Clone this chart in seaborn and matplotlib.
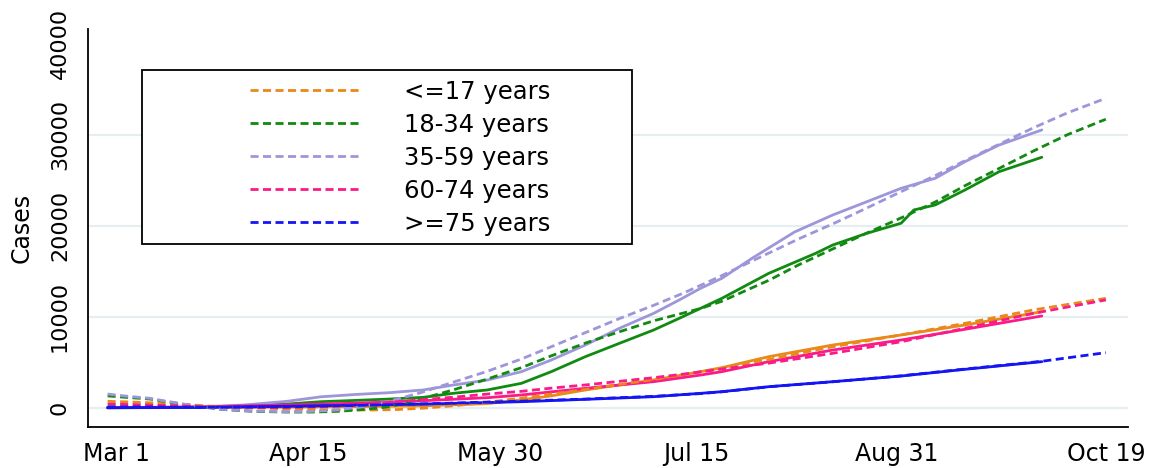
import matplotlib
matplotlib.use("Agg")
import matplotlib.pyplot as plt
from matplotlib.lines import Line2D
from matplotlib.patches import Rectangle
import numpy as np
import pandas as pd
import seaborn as sns

START = pd.Timestamp("2020-03-01")

groups = ["<=17 years", "18-34 years", "35-59 years", "60-74 years", ">=75 years"]
colors = ["#E8891A", "#118A11", "#9D96DA", "#FA1A88", "#1414F5"]

# Observed cumulative cases (days counted from Mar 1)
obs_u17_days = [-2, 20, 40, 56, 72, 87, 95, 102, 110, 118, 126, 137, 142, 153, 168, 184, 199, 217]
obs_u17 = [0, 20, 60, 120, 200, 450, 850, 1300, 1950, 2500, 3040, 3960, 4400, 5610, 6890, 7990, 9090, 10550]

obs_1834_days = [-2, 10, 20, 30, 40, 48, 56, 64, 72, 79, 87, 95, 102, 110, 118, 126, 132, 137, 142,
                 153, 164, 168, 176, 184, 187, 192, 199, 207, 217]
obs_1834 = [0, 10, 50, 200, 400, 660, 800, 950, 1140, 1580, 1950, 2680, 3960, 5610, 7080, 8540, 9820,
            10920, 12020, 14770, 16970, 17880, 19170, 20270, 21730, 22280, 23930, 25940, 27520]

obs_3559_days = [-2, 10, 20, 30, 40, 48, 56, 64, 72, 79, 87, 95, 102, 110, 118, 126, 132, 137, 142,
                 149, 159, 168, 176, 184, 192, 199, 207, 217]
obs_3559 = [0, 20, 100, 300, 700, 1200, 1450, 1650, 1950, 2490, 3040, 3960, 5240, 6890, 8730, 10370,
            11840, 13120, 14220, 16400, 19300, 21180, 22640, 24110, 25210, 27040, 28870, 30520]

obs_6074_days = [-2, 20, 40, 56, 72, 87, 95, 110, 126, 137, 142, 153, 168, 184, 199, 217]
obs_6074 = [0, 100, 300, 500, 770, 1100, 1400, 2130, 2860, 3590, 3960, 5060, 6340, 7440, 8620, 10080]

obs_75_days = [-2, 20, 40, 56, 72, 95, 110, 126, 137, 142, 153, 168, 184, 199, 217]
obs_75 = [0, 30, 150, 280, 400, 660, 920, 1210, 1580, 1760, 2310, 2860, 3480, 4220, 5060]

# Fitted trends, extended to Oct 19
fit_u17_days = [-2, 4, 10, 16, 22, 30, 40, 50, 60, 66, 72, 80, 87, 95, 102, 110, 118, 126, 137, 142,
                153, 168, 184, 199, 215, 232]
fit_u17 = [700, 620, 500, 350, 180, 0, -120, -220, -250, -200, -50, 250, 600, 1050, 1500, 2000, 2550,
           3100, 3950, 4350, 5300, 6700, 8000, 9270, 10740, 12020]

fit_1834_days = [-2, 2, 8, 11, 14, 17, 25, 32, 40, 46, 52, 58, 64, 71, 79, 87, 95, 102, 110, 118, 126,
                 137, 142, 153, 160, 168, 176, 184, 192, 199, 207, 215, 223, 232]
fit_1834 = [1300, 1150, 950, 720, 500, 280, -200, -400, -480, -480, -400, -200, 100, 900, 1950, 3150,
            4400, 5700, 7100, 8350, 9550, 10900, 11700, 14000, 15700, 17450, 19200, 20850, 22600,
            24400, 26300, 28200, 30000, 31700]

fit_3559_days = [-2, 2, 8, 11, 14, 17, 25, 32, 40, 46, 52, 58, 64, 71, 79, 87, 95, 102, 110, 118, 126,
                 133, 141, 149, 160, 168, 176, 184, 192, 199, 207, 215, 223, 232]
fit_3559 = [1500, 1290, 1030, 770, 550, 300, -180, -360, -440, -400, -250, 150, 700, 1600, 2800, 4000,
            5350, 6700, 8250, 9800, 11250, 12600, 14300, 16100, 18550, 20200, 21950, 23740, 25500,
            27150, 28950, 30750, 32400, 34000]

fit_6074_days = [-2, 5, 12, 20, 30, 40, 50, 60, 71, 79, 87, 95, 102, 110, 118, 126, 134, 142, 153,
                 168, 184, 199, 215, 232]
fit_6074 = [400, 330, 230, 120, 40, 30, 150, 450, 850, 1150, 1500, 1800, 2150, 2500, 2900, 3300, 3750,
            4250, 4900, 5980, 7250, 8730, 10370, 11840]

fit_75_days = [-2, 20, 40, 56, 72, 95, 110, 126, 137, 142, 153, 168, 184, 199, 217, 232]
fit_75 = [100, 50, 100, 250, 420, 720, 950, 1250, 1550, 1750, 2300, 2850, 3500, 4250, 5100, 6050]

xtick_dates = ["2020-03-01", "2020-04-15", "2020-05-30", "2020-07-15", "2020-08-31", "2020-10-19"]
xtick_labels = ["Mar 1", "Apr 15", "May 30", "Jul 15", "Aug 31", "Oct 19"]
ytick_values = [0, 10000, 20000, 30000, 40000]


def frame(days, values, group):
    return pd.DataFrame({
        "date": START + pd.to_timedelta(np.asarray(days, dtype=float), unit="D"),
        "cases": values,
        "group": group,
    })


observed = pd.concat([
    frame(obs_u17_days, obs_u17, groups[0]),
    frame(obs_1834_days, obs_1834, groups[1]),
    frame(obs_3559_days, obs_3559, groups[2]),
    frame(obs_6074_days, obs_6074, groups[3]),
    frame(obs_75_days, obs_75, groups[4]),
], ignore_index=True)

fitted = pd.concat([
    frame(fit_u17_days, fit_u17, groups[0]),
    frame(fit_1834_days, fit_1834, groups[1]),
    frame(fit_3559_days, fit_3559, groups[2]),
    frame(fit_6074_days, fit_6074, groups[3]),
    frame(fit_75_days, fit_75, groups[4]),
], ignore_index=True)

sns.set_theme(style="white")
plt.rcParams["font.family"] = ["DejaVu Sans"]
plt.rcParams["text.color"] = "black"
plt.rcParams["axes.labelcolor"] = "black"
plt.rcParams["xtick.color"] = "black"
plt.rcParams["ytick.color"] = "black"

fig = plt.figure(figsize=(11.54, 4.68), dpi=100)
ax = fig.add_axes([88 / 1154, 1 - 427 / 468, (1128 - 88) / 1154, (427 - 29) / 468])

for v in ytick_values[:-1]:
    ax.axhline(v, color="#E6EEF2", lw=1.6, zorder=0)

palette = dict(zip(groups, colors))
dash = (0, (2.9, 1.6))
sns.lineplot(data=observed, x="date", y="cases", hue="group", hue_order=groups, palette=palette,
             estimator=None, lw=2.0, legend=False, ax=ax, zorder=2)
sns.lineplot(data=fitted, x="date", y="cases", hue="group", hue_order=groups, palette=palette,
             estimator=None, lw=2.0, linestyle=dash, legend=False, ax=ax, zorder=3)

ax.set_xlim(START + pd.Timedelta(days=-6.6), START + pd.Timedelta(days=237.2))
ax.set_ylim(-2120, 41615)

ax.set_xticks(pd.to_datetime(xtick_dates))
ax.set_xticklabels(xtick_labels)
ax.set_yticks(ytick_values)
ax.set_yticklabels([str(v) for v in ytick_values])

ax.tick_params(axis="x", direction="out", length=7, width=1.2, labelsize=17, pad=4)
ax.tick_params(axis="y", direction="out", length=7, width=1.2, labelsize=16, pad=6, labelrotation=90)
for lab in ax.get_yticklabels():
    lab.set_verticalalignment("center")

for side in ["top", "right"]:
    ax.spines[side].set_visible(False)
for side in ["left", "bottom"]:
    ax.spines[side].set_color("black")
    ax.spines[side].set_linewidth(1.3)

ax.set_xlabel("")
ax.set_ylabel("Cases", fontsize=17)
ax.yaxis.set_label_coords(-0.052, 0.5)

# Legend box with the fitted-line keys
box = Rectangle((142 / 1154, 1 - 244 / 468), 490 / 1154, 174 / 468,
                transform=fig.transFigure, facecolor="white", edgecolor="black",
                lw=1.3, zorder=5, clip_on=False)
ax.add_artist(box)
handles = [Line2D([], [], color=c, lw=2.0, linestyle=dash) for c in colors]
leg = ax.legend(handles, groups, loc="upper left", bbox_to_anchor=(250 / 1154, 1 - 80 / 468),
                bbox_transform=fig.transFigure, frameon=False, fontsize=17.5, borderpad=0,
                handlelength=4.55, handletextpad=1.8, labelspacing=0.37, borderaxespad=0)
leg.set_zorder(6)

fig.savefig("out.png", dpi=100, facecolor="white")
